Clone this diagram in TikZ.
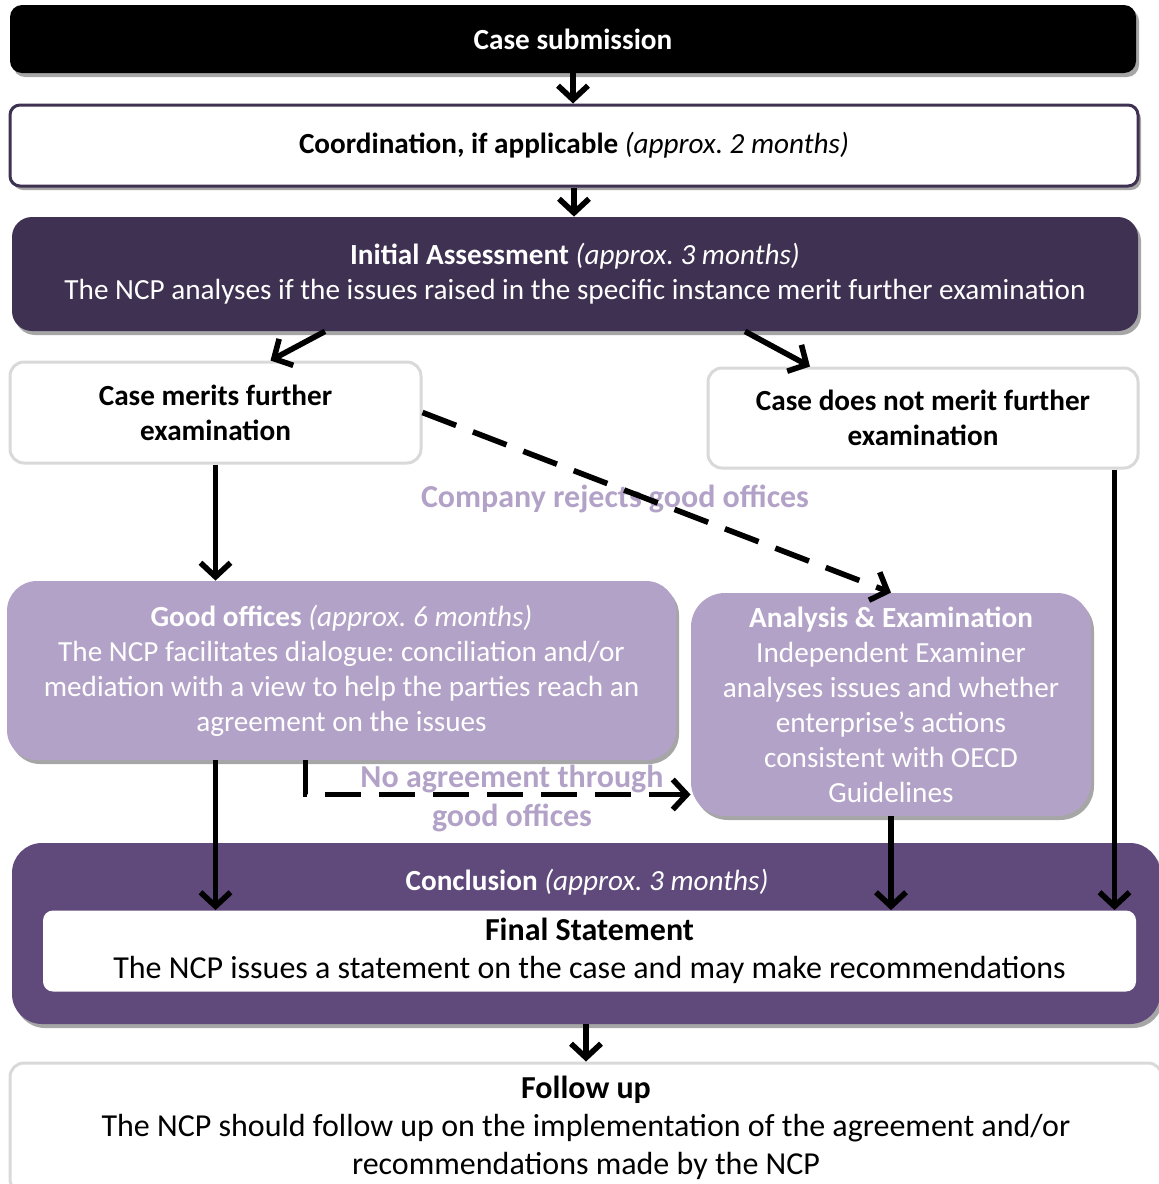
\documentclass[tikz,border=0pt]{standalone}
\usepackage{fontspec}
\setmainfont{Carlito}
\usetikzlibrary{arrows.meta,shadows}
\definecolor{darkplum}{HTML}{3F3151}
\definecolor{midplum}{HTML}{604A7B}
\definecolor{lavender}{HTML}{B3A2C7}
\definecolor{lightgrey}{HTML}{D9D9D9}
\tikzset{
  txt/.style={font=\fontsize{14.6}{17.5}\selectfont, align=center, inner sep=0pt},
  bigtxt/.style={font=\fontsize{16}{19}\selectfont},
  box/.style={txt, rectangle, minimum width=#1},
  shade/.style={drop shadow={shadow xshift=1.5pt, shadow yshift=-2pt, opacity=0.35, fill=black}},
  arr/.style={line width=2.8pt, -{Straight Barb[length=7pt,width=15pt]}},
  dasharr/.style={arr, dash pattern=on 18pt off 9pt},
  lbl/.style={txt, text=lavender, font=\fontsize{16}{19.5}\selectfont\bfseries},
}
\begin{document}
\frenchspacing
\begin{tikzpicture}[x=0.5pt,y=-0.5pt]
\useasboundingbox (0,0) rectangle (1158,1184);

% Case submission
\node[box=563pt, minimum height=34pt, fill=black, text=white, rounded corners=6pt, shade] (submit) at (573,39) {\textbf{Case submission}};

% Coordination
\node[box=564pt, minimum height=40.5pt, fill=white, draw=darkplum, line width=1.5pt, rounded corners=5pt, shade] (coord) at (574,145.5) {\textbf{Coordination, if applicable} \textit{(approx. 2 months)}};

% Initial assessment
\node[box=563pt, minimum height=57pt, fill=darkplum, text=white, rounded corners=10pt, shade] (initial) at (575,274) {\textbf{Initial Assessment} \textit{(approx. 3 months)}\\The NCP analyses if the issues raised in the specific instance merit further examination};

% Merits / does not merit
\node[box=205.5pt, minimum height=50.5pt, fill=white, draw=lightgrey, line width=1.5pt, rounded corners=7pt] (merits) at (215.5,412.5) {\textbf{Case merits further}\\\textbf{examination}};
\node[box=215pt, minimum height=50pt, fill=white, draw=lightgrey, line width=1.5pt, rounded corners=7pt] (notmerit) at (923,418) {\textbf{Case does not merit further}\\\textbf{examination}};

% Good offices
\node[box=334.5pt, minimum height=89.5pt, fill=lavender, text=white, rounded corners=15pt, shade] (good) at (341.5,670.5) {\textbf{Good offices} \textit{(approx. 6 months)}\\The NCP facilitates dialogue: conciliation and/or\\mediation with a view to help the parties reach an\\agreement on the issues};

% Analysis
\node[box=200pt, minimum height=111.5pt, fill=lavender, text=white, rounded corners=17pt, shade] (analysis) at (891,704.5) {\textbf{Analysis \& Examination}\\Independent Examiner\\analyses issues and whether\\enterprise’s actions\\consistent with OECD\\Guidelines};

% Labels
\node[lbl] (rejectlbl) at (615,499) {Company rejects good offices};
\node[lbl] (noagreelbl) at (512,798) {No agreement through\\good offices};

% Conclusion
\node[box=574pt, minimum height=90.5pt, fill=midplum, rounded corners=15pt, shade] (concl) at (586,933.5) {};
\node[txt, text=white] (concllbl) at (587,882) {\textbf{Conclusion} \textit{(approx. 3 months)}};
\node[box=546.5pt, minimum height=40.5pt, fill=white, rounded corners=5pt, bigtxt] (final) at (589.5,951) {\textbf{Final Statement}\\The NCP issues a statement on the case and may make recommendations};

% Follow up
\node[box=576pt, minimum height=65pt, fill=white, draw=lightgrey, line width=1.5pt, rounded corners=7pt, bigtxt] (follow) at (586,1128) {\textbf{Follow up}\\The NCP should follow up on the implementation of the agreement and/or\\recommendations made by the NCP};

% Connectors
\draw[arr] (submit.south) -- (submit.south |- coord.north);
\draw[arr] (coord.south) -- (coord.south |- initial.north);
\draw[arr] ([xshift=-125pt]initial.south) -- ([xshift=27.5pt]merits.north);
\draw[arr] ([xshift=85pt]initial.south) -- ([xshift=-56.5pt]notmerit.north);
\draw[dasharr] (merits.east) -- (analysis.north);
\draw[arr] (merits.south) -- (merits.south |- good.north);
\draw[arr] ([xshift=-12.5pt]notmerit.south east) -- ([xshift=-12.5pt]notmerit.south east |- final.north);
\draw[arr] (merits.south |- good.south) -- (merits.south |- final.north);
\draw[arr] (analysis.south) -- (analysis.south |- final.north);
\draw[dasharr] ([xshift=-18pt]good.south) |- ([yshift=-45pt]analysis.west);
\draw[arr] (concl.south) -- (concl.south |- follow.north);
\end{tikzpicture}
\end{document}
